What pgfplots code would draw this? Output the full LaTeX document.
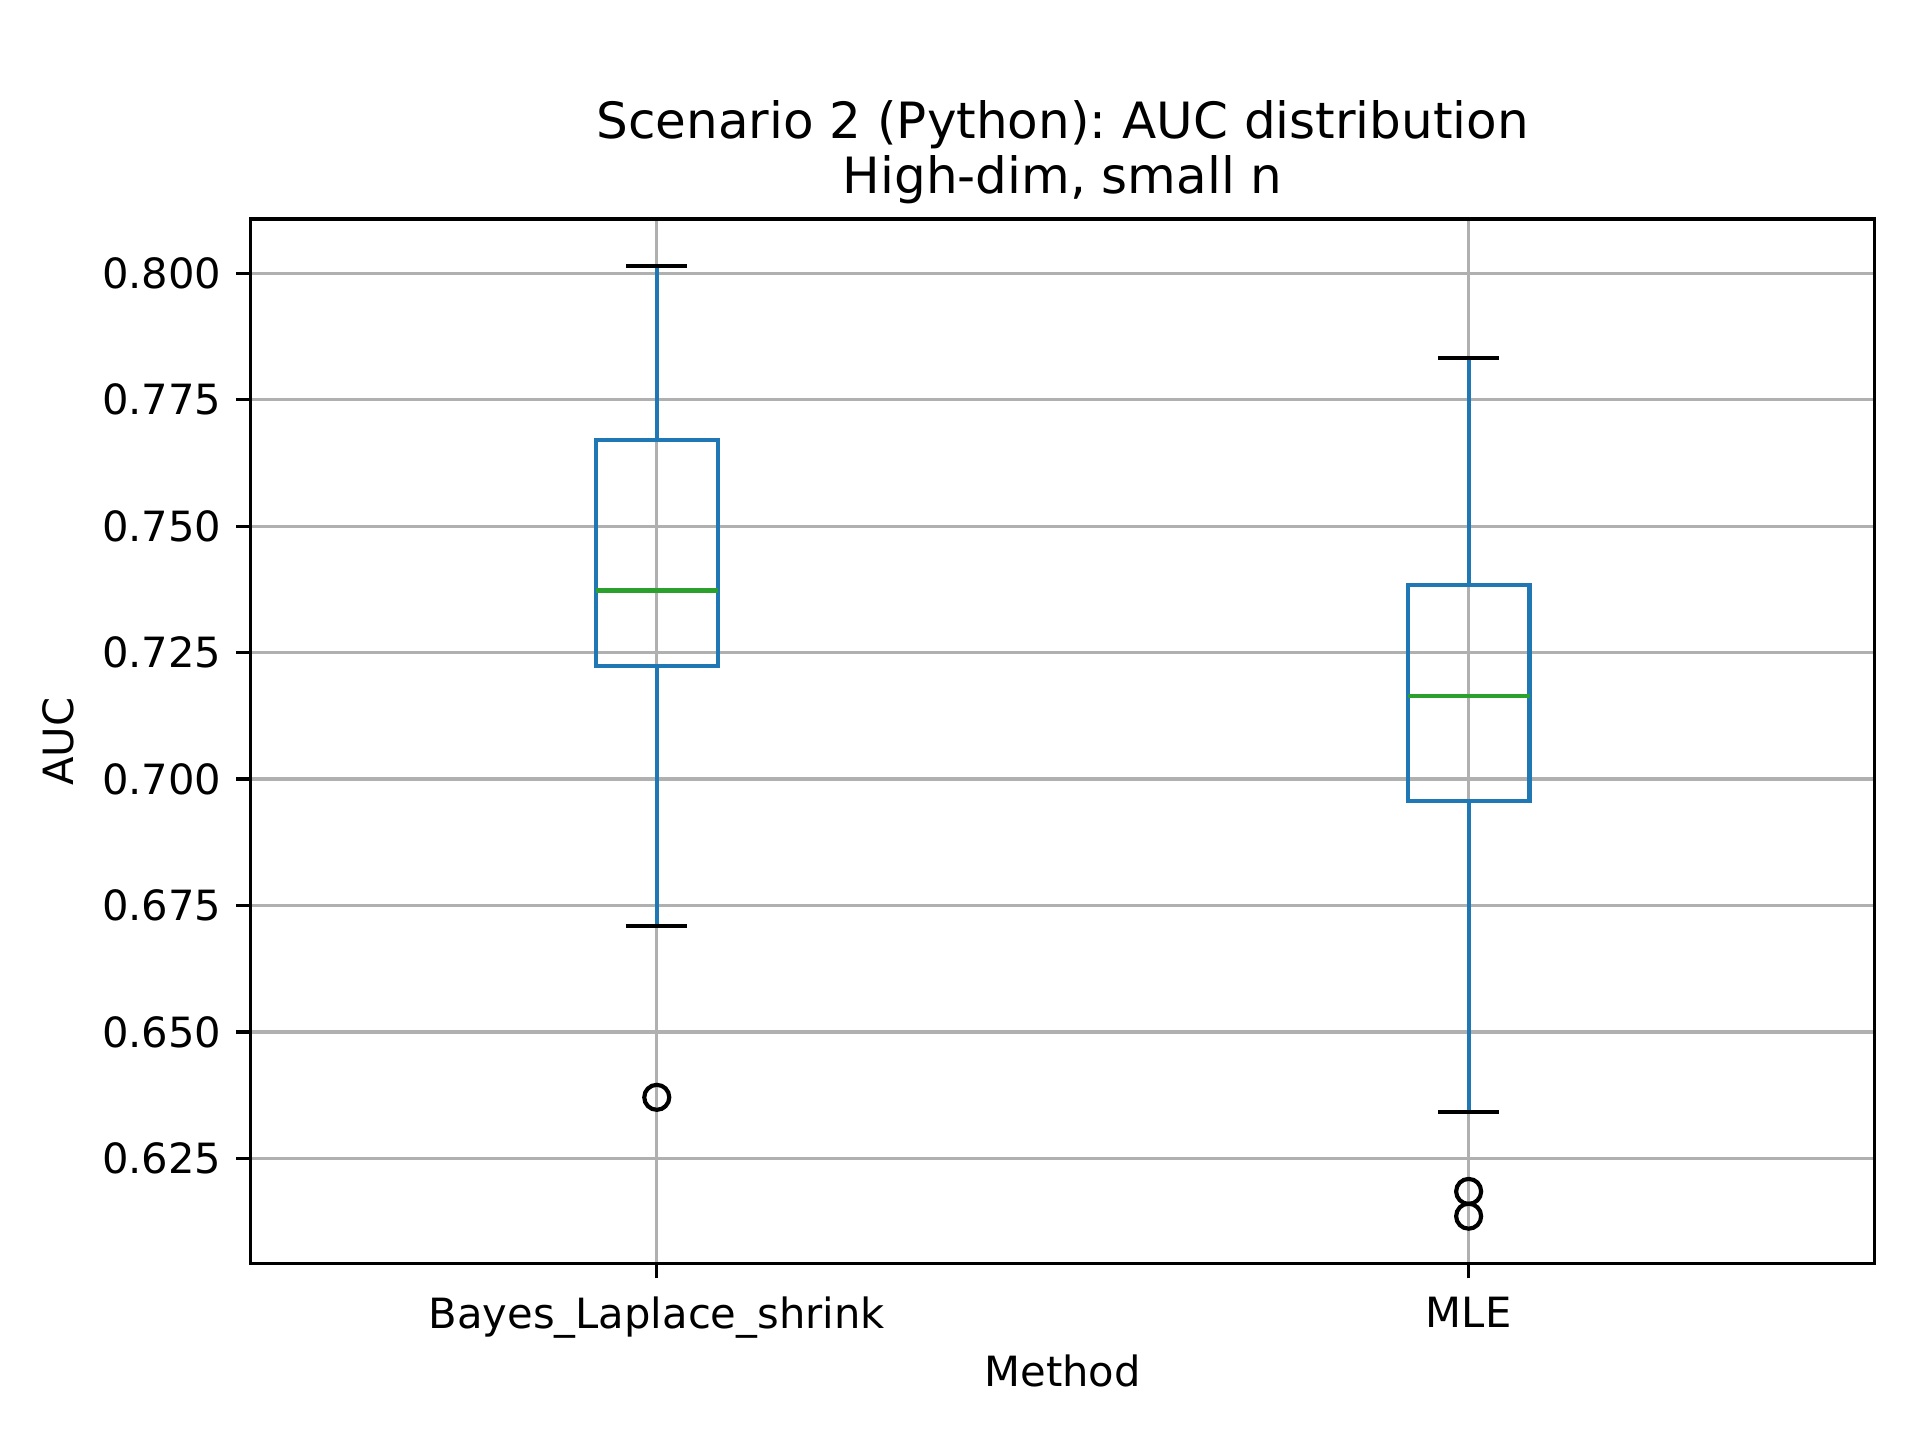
\documentclass[border=0pt]{standalone}
\usepackage{fontspec}
\setmainfont{DejaVu Sans}
\usepackage{pgfplots}
\pgfplotsset{compat=1.18}
\usepgfplotslibrary{statistics}
\definecolor{mplblue}{HTML}{1F77B4}
\definecolor{mplgreen}{HTML}{2CA02C}
\definecolor{gridgray}{HTML}{B0B0B0}
\frenchspacing

\pgfplotsset{
  mplbox/.style={
    solid, draw=mplblue, line width=1pt,
    mark=o, mark size=3pt,
    mark options={draw=black, solid, line width=1pt, fill=none},
    boxplot/draw direction=y,
    boxplot/box extend=0.15,
    boxplot/whisker extend=0.075,
    boxplot/every median/.style={draw=mplgreen, line width=1pt},
    boxplot/draw/lower whisker/.code={
      \draw[mplblue, line width=1pt] (boxplot cs:\pgfplotsboxplotvalue{lower quartile}) -- (boxplot cs:\pgfplotsboxplotvalue{lower whisker});
      \draw[black, line width=1pt] (boxplot whisker cs:\pgfplotsboxplotvalue{lower whisker},0) -- (boxplot whisker cs:\pgfplotsboxplotvalue{lower whisker},1);
    },
    boxplot/draw/upper whisker/.code={
      \draw[mplblue, line width=1pt] (boxplot cs:\pgfplotsboxplotvalue{upper quartile}) -- (boxplot cs:\pgfplotsboxplotvalue{upper whisker});
      \draw[black, line width=1pt] (boxplot whisker cs:\pgfplotsboxplotvalue{upper whisker},0) -- (boxplot whisker cs:\pgfplotsboxplotvalue{upper whisker},1);
    },
  }
}

\begin{document}
\begin{tikzpicture}
\begin{axis}[
  name=ax,
  at={(0,0)}, anchor=south west,
  width=389.7pt, height=250.7pt, scale only axis,
  xmin=0.5, xmax=2.5, ymin=0.6042, ymax=0.8107,
  xtick={1,2}, xticklabels={Bayes\_Laplace\_shrink, MLE},
  ytick={0.625,0.650,0.675,0.700,0.725,0.750,0.775,0.800},
  yticklabel style={/pgf/number format/.cd, fixed, fixed zerofill, precision=3},
  xticklabel style={yshift=-0.9pt},
  /pgf/number format/assume math mode=true,
  grid=major, major grid style={gridgray, line width=0.8pt},
  axis line style={line width=0.8pt},
  tick align=outside, major tick length=3.5pt,
  tick style={black, line width=0.8pt},
  tick pos=left,
  xlabel={Method}, ylabel={AUC},
  xlabel style={yshift=2.8pt},
  label style={font=\fontsize{10}{12}\selectfont},
  tick label style={font=\fontsize{10}{12}\selectfont},
  title style={font=\fontsize{12}{13.2}\selectfont, align=center, yshift=-5.9pt},
  title={Scenario 2 (Python): AUC distribution\\High-dim, small n},
]
\addplot[mplbox, boxplot prepared={draw position=1,
  median=0.7373, upper quartile=0.7671, lower quartile=0.7223,
  upper whisker=0.8015, lower whisker=0.6710}]
  table[row sep=\\, y index=0] {y\\ 0.6371\\};
\addplot[mplbox, boxplot prepared={draw position=2,
  median=0.7165, upper quartile=0.7383, lower quartile=0.6957,
  upper whisker=0.7833, lower whisker=0.6342}]
  table[row sep=\\, y index=0] {y\\ 0.6185\\ 0.6136\\};
\end{axis}
\path ([shift={(-60.2pt,-42.3pt)}]ax.south west) rectangle ([shift={(10.9pt,52.6pt)}]ax.north east);
\end{tikzpicture}
\end{document}
